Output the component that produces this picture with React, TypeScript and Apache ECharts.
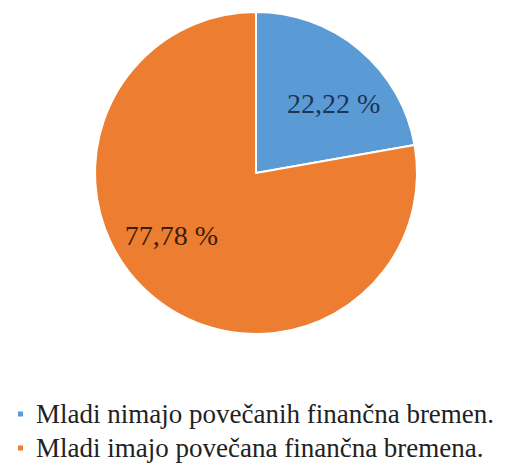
import React, { useEffect, useRef } from "react";
import * as echarts from "echarts";

const categories = [
  "Mladi nimajo povečanih finančna bremen.",
  "Mladi imajo povečana finančna bremena.",
];
const values = [22.22, 77.78];
const labelTexts = ["22,22 %", "77,78 %"];
const colors = ["#5B9BD5", "#ED7D31"];
const labelColors = ["#1c3557", "#3b1d0a"];
const labelShift = [
  [24, -6],
  [-31, -1],
];

export default function App() {
  const ref = useRef<HTMLDivElement>(null);
  useEffect(() => {
    if (!ref.current) return;
    const chart = echarts.init(ref.current, undefined, { renderer: "svg" });
    const font = "Times";
    chart.setOption({
      animation: false,
      backgroundColor: "#ffffff",
      legend: {
        orient: "vertical",
        left: 11,
        top: 394,
        icon: "rect",
        itemWidth: 7,
        itemHeight: 7,
        itemGap: 4,
        data: categories,
        textStyle: {
          fontFamily: font,
          fontSize: 27,
          lineHeight: 30,
          color: "#222222",
          padding: [0, 0, 0, 7],
        },
      },
      series: [
        {
          type: "pie",
          center: [256, 173],
          radius: 161,
          startAngle: 90,
          clockwise: true,
          itemStyle: { borderColor: "#ffffff", borderWidth: 2 },
          label: {
            show: true,
            position: "inside",
            fontFamily: font,
            fontSize: 28,
          },
          labelLine: { show: false },
          labelLayout: (params: any) => {
            const s = labelShift[params.dataIndex];
            return { dx: s[0], dy: s[1] };
          },
          emphasis: { disabled: true },
          data: categories.map((name, i) => ({
            name,
            value: values[i],
            itemStyle: { color: colors[i] },
            label: {
              formatter: labelTexts[i],
              color: labelColors[i],
            },
          })),
        },
      ],
    });
    return () => chart.dispose();
  }, []);
  return (
    <div
      ref={ref}
      style={{ position: "fixed", left: 0, top: 0, width: 509, height: 469 }}
    />
  );
}
